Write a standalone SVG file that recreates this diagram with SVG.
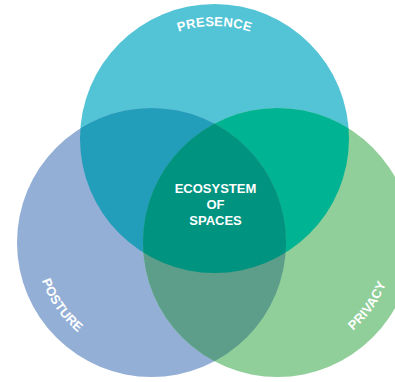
<svg xmlns="http://www.w3.org/2000/svg" xmlns:xlink="http://www.w3.org/1999/xlink" width="395" height="382" viewBox="0 0 395 382">
<style>
.lbl{font-family:"Liberation Sans",Arial,Helvetica,sans-serif;font-weight:bold;font-size:13px;fill:#ffffff}
.arc{font-family:"Liberation Sans",Arial,Helvetica,sans-serif;font-weight:bold;font-size:13px;fill:#ffffff;letter-spacing:0.2px}
</style>
<defs>
<clipPath id="cTop"><circle cx="214.5" cy="138.5" r="134.5"/></clipPath>
<clipPath id="cLeft"><circle cx="151.5" cy="242.5" r="134.5"/></clipPath>
<clipPath id="cRight"><circle cx="277.5" cy="242.5" r="134.5"/></clipPath>
<path id="pTop" d="M102,138.5 A112.5,112.5 0 0 1 327,138.5" fill="none"/>
<path id="pLeft" d="M42.5,202.8 A116,116 0 0 0 151.5,358.5" fill="none"/>
<path id="pRight" d="M277.5,358.5 A116,116 0 0 0 386.5,202.8" fill="none"/>
</defs>
<rect width="395" height="382" fill="#ffffff"/>
<g id="presence">
<circle cx="214.5" cy="138.5" r="134.5" fill="#52C4D6"/>
</g>
<g id="posture">
<circle cx="151.5" cy="242.5" r="134.5" fill="#93AFD6"/>
</g>
<g id="privacy">
<circle cx="277.5" cy="242.5" r="134.5" fill="#90CE9A"/>
</g>
<g id="overlaps">
<circle cx="151.5" cy="242.5" r="134.5" fill="#229DBA" clip-path="url(#cTop)"/>
<circle cx="277.5" cy="242.5" r="134.5" fill="#00B493" clip-path="url(#cTop)"/>
<circle cx="277.5" cy="242.5" r="134.5" fill="#5C9E8A" clip-path="url(#cLeft)"/>
<g clip-path="url(#cTop)"><circle cx="277.5" cy="242.5" r="134.5" fill="#00937F" clip-path="url(#cLeft)"/></g>
</g>
<g id="ecosystem">
<text class="lbl" x="215.5" y="193.3" text-anchor="middle">ECOSYSTEM</text>
<text class="lbl" x="215.5" y="209" text-anchor="middle">OF</text>
<text class="lbl" x="215.5" y="224.5" text-anchor="middle">SPACES</text>
</g>
<g id="labels">
<text class="arc"><textPath xlink:href="#pTop" href="#pTop" startOffset="50%" text-anchor="middle">PRESENCE</textPath></text>
<text class="arc"><textPath xlink:href="#pLeft" href="#pLeft" startOffset="50%" text-anchor="middle">POSTURE</textPath></text>
<text class="arc"><textPath xlink:href="#pRight" href="#pRight" startOffset="50%" text-anchor="middle">PRIVACY</textPath></text>
</g>
</svg>
